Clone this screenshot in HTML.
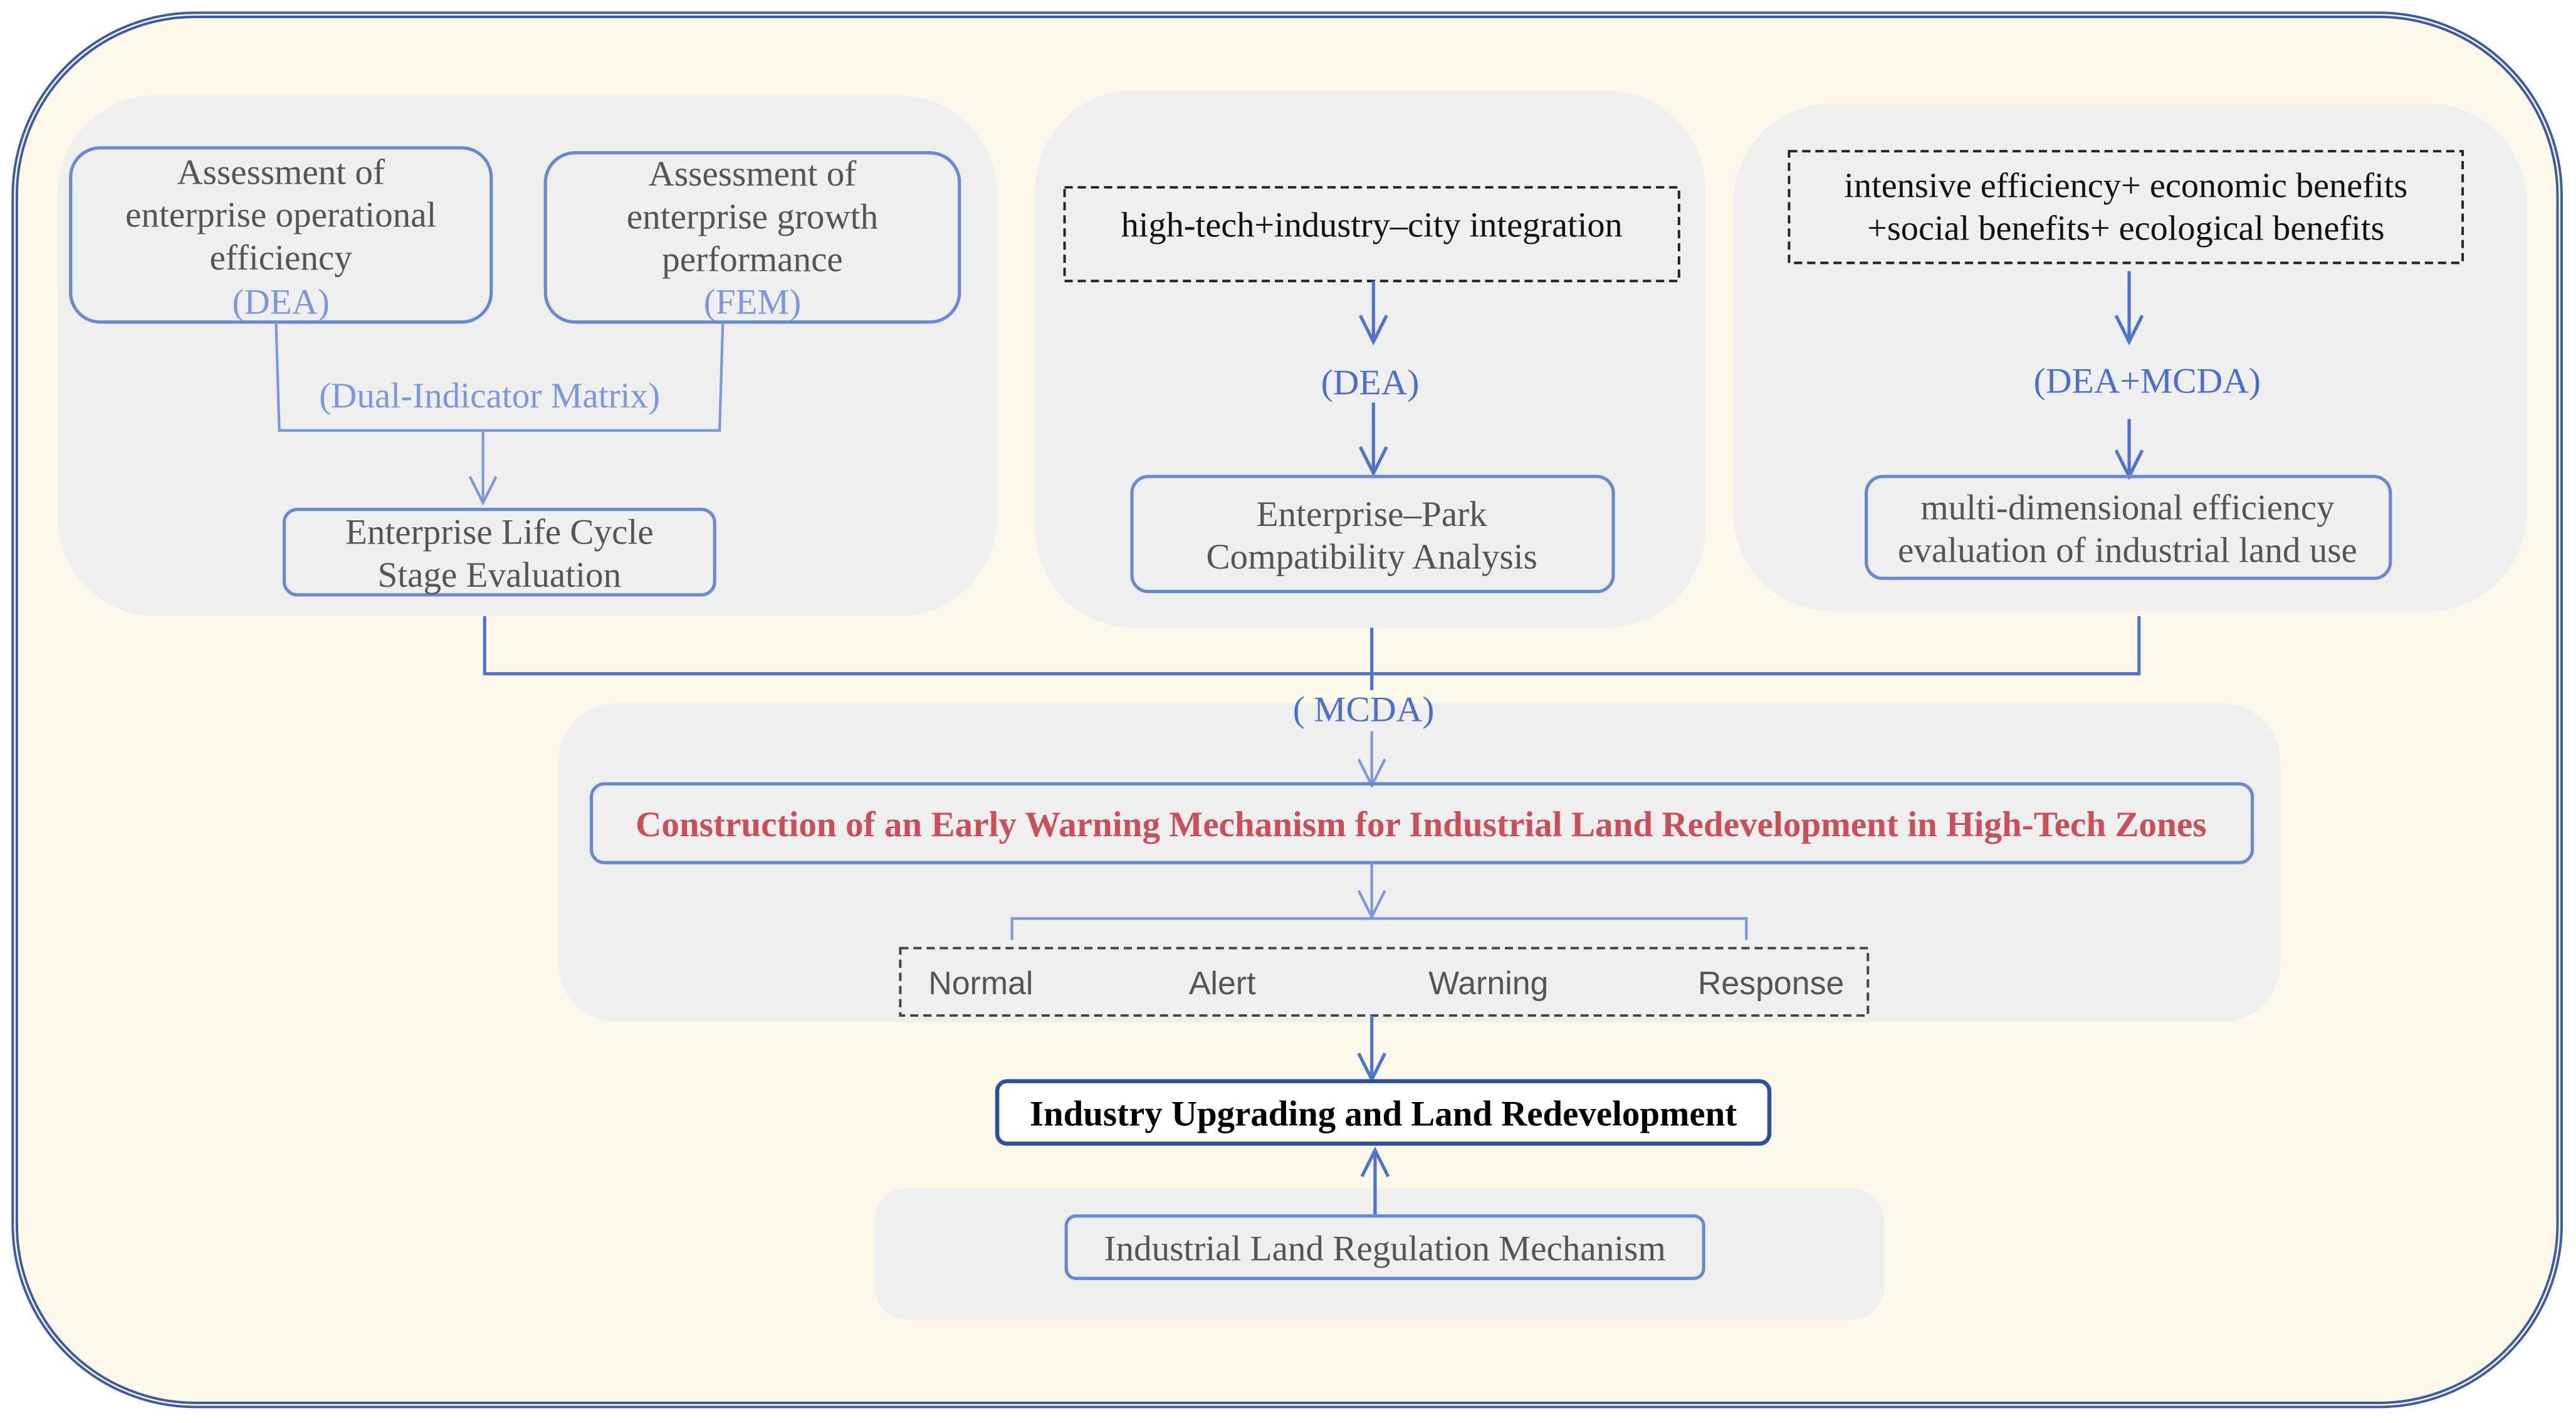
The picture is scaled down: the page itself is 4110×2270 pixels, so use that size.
<!DOCTYPE html>
<html><head><meta charset="utf-8"><style>
html,body{margin:0;padding:0;background:#fff;}
svg{display:block}
text{font-family:"Liberation Serif",serif;}
.g{fill:#555;font-size:21.8px}
.b{fill:#7b98d8;font-size:21.8px}
.bx{fill:none;stroke:#6a8ad0;stroke-width:2}
.ln{fill:none;stroke:#7b98d8;stroke-width:1.6}
.ln2{fill:none;stroke:#4f74cc;stroke-width:2}
.s{font-family:'Liberation Sans',sans-serif;font-size:19.8px;fill:#555}
</style></head><body>
<svg width="4110" height="2270" viewBox="0 0 1568 866" preserveAspectRatio="none" xmlns="http://www.w3.org/2000/svg">
<rect x="0" y="0" width="1568" height="866" fill="#fff"/>
<rect x="9" y="9" width="1549" height="846" rx="110" fill="#fdf9ea" stroke="#3d5ba3" stroke-width="4"/>
<rect x="9" y="9" width="1549" height="846" rx="110" fill="none" stroke="#fdf9ea" stroke-width="1"/>
<rect x="35" y="58" width="572" height="317" rx="60" fill="#efefef"/>
<rect x="630" y="55" width="408" height="327" rx="60" fill="#efefef"/>
<rect x="1055" y="63" width="483" height="309" rx="60" fill="#efefef"/>
<rect x="340" y="428" width="1048" height="194" rx="35" fill="#efefef"/>
<rect x="532" y="723" width="615" height="80" rx="20" fill="#efefef"/>

<rect class="bx" x="43" y="90" width="256" height="106" rx="18"/>
<text class="g" x="171" y="112" text-anchor="middle">Assessment of</text>
<text class="g" x="171" y="138" text-anchor="middle">enterprise operational</text>
<text class="g" x="171" y="164" text-anchor="middle">efficiency</text>
<text class="b" x="171" y="191" text-anchor="middle">(DEA)</text>
<rect class="bx" x="332" y="93" width="252" height="103" rx="18"/>
<text class="g" x="458" y="113" text-anchor="middle">Assessment of</text>
<text class="g" x="458" y="139" text-anchor="middle">enterprise growth</text>
<text class="g" x="458" y="165" text-anchor="middle">performance</text>
<text class="b" x="458" y="191" text-anchor="middle">(FEM)</text>
<path class="ln" d="M168 196 L170 262 L438 262 L440 196"/>
<text class="b" x="298" y="248" text-anchor="middle">(Dual-Indicator Matrix)</text>
<path class="ln" d="M294 262 V306 M286 290 L294 306 L302 290"/>
<rect class="bx" x="173" y="310" width="262" height="52" rx="8"/>
<text class="g" x="304" y="331" text-anchor="middle">Enterprise Life Cycle</text>
<text class="g" x="304" y="357" text-anchor="middle">Stage Evaluation</text>

<rect x="648" y="114" width="374" height="57" fill="none" stroke="#222" stroke-width="1.5" stroke-dasharray="5,3"/>
<text x="835" y="144" text-anchor="middle" style="font-size:21.5px;fill:#111">high-tech+industry–city integration</text>
<path class="ln2" d="M836 171 V208 M828 192 L836 208 L844 192"/>
<text x="834" y="240" text-anchor="middle" style="font-size:22px;fill:#4a6fd0">(DEA)</text>
<path class="ln2" d="M836 245 V288 M828 272 L836 288 L844 272"/>
<rect class="bx" x="689" y="290" width="293" height="70" rx="10"/>
<text class="g" x="835" y="320" text-anchor="middle">Enterprise–Park</text>
<text class="g" x="835" y="346" text-anchor="middle">Compatibility Analysis</text>

<rect x="1089" y="92" width="410" height="68" fill="none" stroke="#222" stroke-width="1.5" stroke-dasharray="5,3"/>
<text x="1294" y="120" text-anchor="middle" style="font-size:21.5px;fill:#111">intensive efficiency+ economic benefits</text>
<text x="1294" y="146" text-anchor="middle" style="font-size:21.5px;fill:#111">+social benefits+ ecological benefits</text>
<path class="ln2" d="M1296 165 V208 M1288 192 L1296 208 L1304 192"/>
<text x="1307" y="239" text-anchor="middle" style="font-size:22px;fill:#4a6fd0">(DEA+MCDA)</text>
<path class="ln2" d="M1296 255 V290 M1288 274 L1296 290 L1304 274"/>
<rect class="bx" x="1136" y="290" width="319" height="62" rx="10"/>
<text class="g" x="1295" y="316" text-anchor="middle">multi-dimensional efficiency</text>
<text class="g" x="1295" y="342" text-anchor="middle">evaluation of industrial land use</text>

<path class="ln2" d="M295 375 V410 H1302 V375 M835 382 V420"/>
<text x="830" y="439" text-anchor="middle" style="font-size:22px;fill:#4a6fd0">( MCDA)</text>
<path class="ln" d="M835 445 V478 M827 462 L835 478 L843 462"/>
<rect class="bx" x="360" y="477" width="1011" height="48" rx="8"/>
<text x="865" y="509" text-anchor="middle" style="font-size:21.8px;font-weight:bold;fill:#c9505a">Construction of an Early Warning Mechanism for Industrial Land Redevelopment in High-Tech Zones</text>
<path class="ln" d="M835 525 V558 M827 542 L835 558 L843 542"/>
<path class="ln" d="M616 572 V559 H1063 V572"/>
<rect x="548" y="577" width="589" height="41" fill="none" stroke="#444" stroke-width="1.5" stroke-dasharray="5,3"/>
<text class="s" x="597" y="605" text-anchor="middle">Normal</text>
<text class="s" x="744" y="605" text-anchor="middle">Alert</text>
<text class="s" x="906" y="605" text-anchor="middle">Warning</text>
<text class="s" x="1078" y="605" text-anchor="middle">Response</text>
<path class="ln2" d="M835 618 V657 M827 641 L835 657 L843 641"/>
<rect x="607" y="658" width="470" height="38" rx="6" fill="#fff" stroke="#2f4f9f" stroke-width="2.5"/>
<text x="842" y="685" text-anchor="middle" style="font-size:21.7px;font-weight:bold;fill:#000">Industry Upgrading and Land Redevelopment</text>
<path class="ln2" d="M837 740 V700 M829 716 L837 700 L845 716"/>
<rect x="649" y="740" width="388" height="38" rx="6" fill="none" stroke="#6a8ad0" stroke-width="2"/>
<text class="g" x="843" y="767" text-anchor="middle">Industrial Land Regulation Mechanism</text>
</svg>
</body></html>
